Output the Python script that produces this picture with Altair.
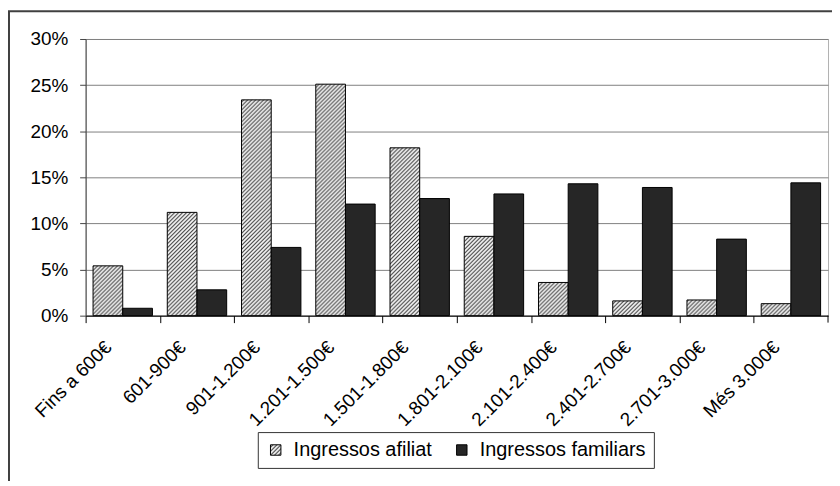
import altair as alt
import pandas as pd
import jinja2

categories = ["Fins a 600€", "601-900€", "901-1.200€", "1.201-1.500€", "1.501-1.800€",
              "1.801-2.100€", "2.101-2.400€", "2.401-2.700€", "2.701-3.000€", "Més 3.000€"]
series = ["Ingressos afiliat", "Ingressos familiars"]
afiliat = [5.4, 11.2, 23.4, 25.1, 18.2, 8.6, 3.6, 1.6, 1.7, 1.3]
familiars = [0.8, 2.8, 7.4, 12.1, 12.7, 13.2, 14.3, 13.9, 8.3, 14.4]
y_ticks = [0, 5, 10, 15, 20, 25, 30]

df = pd.DataFrame({
    "cat": categories * 2,
    "serie": [series[0]] * len(categories) + [series[1]] * len(categories),
    "val": afiliat + familiars,
})

W, H = 746, 278
step = W / len(categories)
FONT = "Liberation Sans"

bars = alt.Chart(df).mark_bar(stroke="black", strokeWidth=1).encode(
    x=alt.X("cat:N", sort=categories,
            scale=alt.Scale(paddingInner=0.2, paddingOuter=0.1),
            axis=alt.Axis(title=None, labelAngle=-45, labelFontSize=19, labelColor="black",
                          tickOffset=-step / 2, tickSize=7, tickColor="black",
                          domainColor="black", grid=False, labelPadding=15,
                          labelOffset=16)),
    xOffset=alt.XOffset("serie:N", sort=series,
                        scale=alt.Scale(paddingInner=0, paddingOuter=0)),
    y=alt.Y("val:Q", scale=alt.Scale(domain=[0, 30]),
            axis=alt.Axis(title=None, values=y_ticks, labelExpr="datum.value + '%'",
                          labelFontSize=19, labelColor="black", tickSize=6,
                          tickColor="#444", domainColor="#444", labelPadding=12,
                          grid=True, gridColor="#808080", gridWidth=1)),
    color=alt.Color("serie:N", sort=series,
                    scale=alt.Scale(domain=series, range=["url(#hatch)", "#262626"]),
                    legend=alt.Legend(title=None, orient="none", legendX=173, legendY=395,
                                      direction="horizontal", strokeColor="#333",
                                      fillColor="white", padding=8, labelFontSize=20,
                                      labelColor="black", symbolType="square",
                                      symbolSize=110, symbolStrokeColor="black",
                                      symbolStrokeWidth=1, columnPadding=20,
                                      labelOffset=8, labelLimit=0)),
)

one = pd.DataFrame({"a": [0]})
end_tick = alt.Chart(one).mark_rule(color="black").encode(
    x=alt.value(W), y=alt.value(H), y2=alt.value(H + 7))
frame_top = alt.Chart(one).mark_rule(color="#404040", strokeWidth=2).encode(
    x=alt.value(-90), x2=alt.value(W + 20), y=alt.value(-28))
frame_left = alt.Chart(one).mark_rule(color="#404040", strokeWidth=2).encode(
    x=alt.value(-77), y=alt.value(-28), y2=alt.value(H + 200))

chart = alt.layer(frame_top, frame_left, bars, end_tick).properties(
    width=W, height=H,
    autosize=alt.AutoSizeParams(type="none"),
    padding={"left": 78, "top": 30, "right": 4, "bottom": 165},
).configure(font=FONT).configure_view(stroke="#b0b0b0", strokeWidth=1)

TEMPLATE = jinja2.Template("""<!DOCTYPE html>
<html>
<head>
  <meta charset="utf-8">
  <style>
    #{{ output_div }}.vega-embed { width: 100%; display: flex; }
  </style>
  <script type="text/javascript" src="{{ base_url }}/vega@{{ vega_version }}"></script>
  <script type="text/javascript" src="{{ base_url }}/vega-lite@{{ vegalite_version }}"></script>
  <script type="text/javascript" src="{{ base_url }}/vega-embed@{{ vegaembed_version }}"></script>
</head>
<body>
<svg width="0" height="0" style="position:absolute">
  <defs>
    <pattern id="hatch" patternUnits="userSpaceOnUse" width="4" height="4">
      <rect width="4" height="4" fill="white"/>
      <path d="M-1,1 l2,-2 M0,4 l4,-4 M3,5 l2,-2" stroke="#333" stroke-width="1.1"/>
    </pattern>
  </defs>
</svg>
<div id="{{ output_div }}"></div>
<script>
  vegaEmbed("#{{ output_div }}", {{ spec }}, {{ embed_options }}).catch(console.error);
</script>
</body>
</html>""")

chart.save("out.html", embed_options={"renderer": "svg", "actions": False}, template=TEMPLATE)
